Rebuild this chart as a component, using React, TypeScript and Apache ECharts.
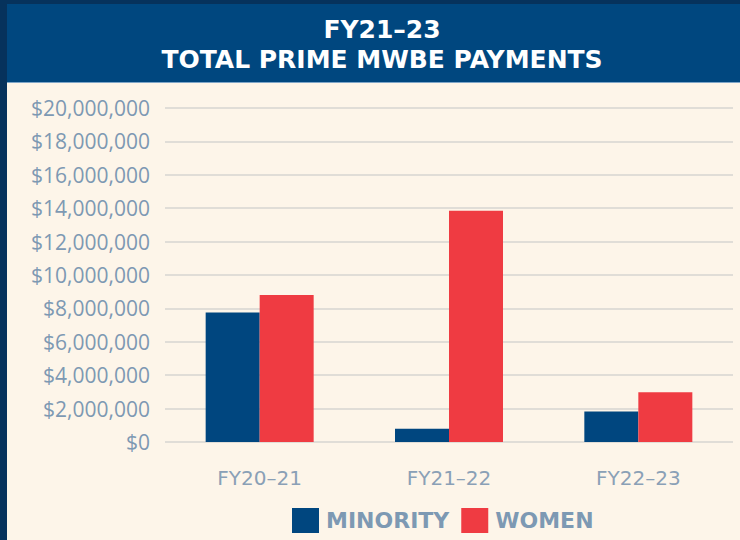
import React, { useEffect, useRef } from "react";
import * as echarts from "echarts";

const categories = ["FY20–21", "FY21–22", "FY22–23"];
const minority = [7750000, 800000, 1830000];
const women = [8800000, 13850000, 2980000];
const titleLines = ["FY21–23", "TOTAL PRIME MWBE PAYMENTS"];
const seriesNames = ["MINORITY", "WOMEN"];

export default function App() {
  const ref = useRef<HTMLDivElement>(null);
  useEffect(() => {
    document.body.style.margin = "0";
    const chart = echarts.init(ref.current!, null, { renderer: "svg" });
    chart.setOption({
      animation: false,
      backgroundColor: "#06325c",
      graphic: [
        { type: "rect", z: -10, shape: { x: 7, y: 4, width: 733, height: 78 }, style: { fill: "#00477f" } },
        { type: "rect", z: -10, shape: { x: 7, y: 82, width: 733, height: 1 }, style: { fill: "#7fa6c8" } },
        { type: "rect", z: -10, shape: { x: 7, y: 83, width: 733, height: 457 }, style: { fill: "#fdf5e9" } },
      ],
      title: [
        {
          text: titleLines[0],
          left: 377,
          top: 12,
          textAlign: "center",
          textStyle: { color: "#ffffff", fontFamily: "DejaVu Sans", fontWeight: "bold", fontSize: 25 },
        },
        {
          text: titleLines[1],
          left: 377,
          top: 42,
          textAlign: "center",
          textStyle: { color: "#ffffff", fontFamily: "DejaVu Sans", fontWeight: "bold", fontSize: 25 },
        },
      ],
      legend: {
        data: seriesNames,
        left: 287,
        top: 503,
        itemWidth: 27,
        itemHeight: 25,
        itemGap: 12,
        icon: "rect",
        textStyle: { color: "#7d99b3", fontFamily: "DejaVu Sans", fontWeight: "bold", fontSize: 22, padding: [0, 0, 0, 2] },
      },
      grid: { left: 165, right: 7, top: 108, bottom: 98, containLabel: false },
      xAxis: {
        type: "category",
        data: categories,
        axisLine: { show: false },
        axisTick: { show: false },
        axisLabel: { color: "#8aa0b6", fontFamily: "DejaVu Sans", fontSize: 20, margin: 26 },
      },
      yAxis: {
        type: "value",
        min: 0,
        max: 20000000,
        interval: 2000000,
        axisLine: { show: false },
        axisTick: { show: false },
        splitLine: { lineStyle: { color: "#e0ddd7", width: 2 } },
        axisLabel: {
          color: "#7d99b3",
          fontFamily: "Open Sans",
          fontSize: 21,
          margin: 15,
          formatter: (v: number) => "$" + v.toLocaleString("en-US"),
        },
      },
      series: [
        { name: seriesNames[0], type: "bar", data: minority, barWidth: 54, barGap: "0%", itemStyle: { color: "#00467f" } },
        { name: seriesNames[1], type: "bar", data: women, barWidth: 54, barGap: "0%", itemStyle: { color: "#ef3b42" } },
      ],
    });
    return () => chart.dispose();
  }, []);
  return <div ref={ref} style={{ width: 740, height: 540, position: "fixed", left: 0, top: 0 }} />;
}
